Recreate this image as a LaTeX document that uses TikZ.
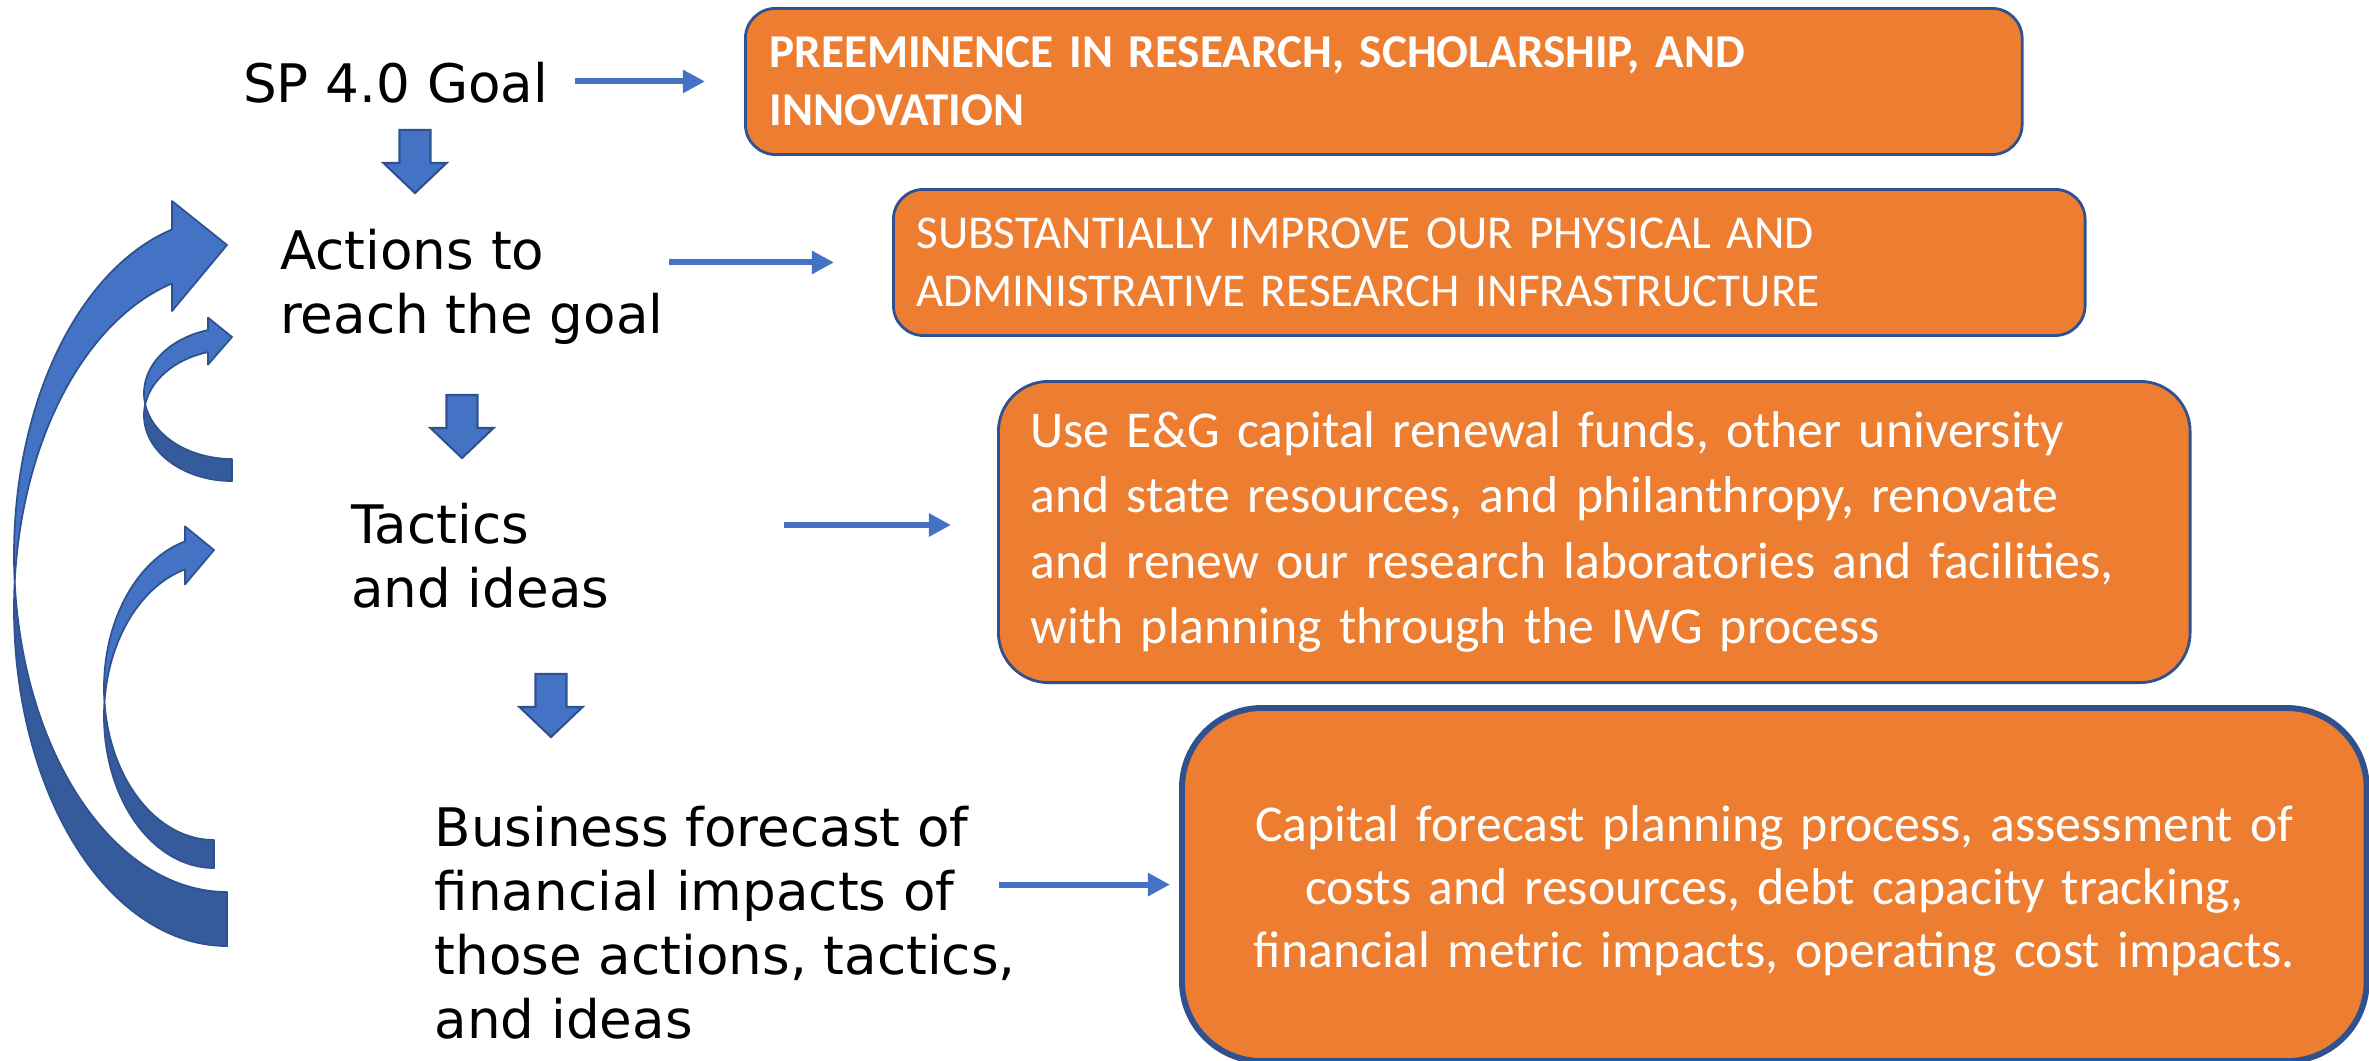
\documentclass[tikz,border=0pt]{standalone}
\usepackage{fontspec}
\setmainfont{DejaVu Sans}
\newfontfamily\cardfont{Carlito}
\usetikzlibrary{arrows.meta}
\definecolor{accblue}{HTML}{4472C4}
\definecolor{accdark}{HTML}{365B9D}
\definecolor{edgeblue}{HTML}{2F528F}
\definecolor{accorange}{HTML}{ED7D31}
\begin{document}
\begin{tikzpicture}[x=0.01cm, y=-0.01cm,
  lbl/.style={inner sep=0pt, anchor=base west, align=left,
    font=\fontsize{15.1}{18.15}\selectfont},
  card/.style={draw=edgeblue, line width=0.8pt, fill=accorange, text=white,
    anchor=north west, inner ysep=0pt, align=left},
  conn/.style={draw=accblue, line width=1.7pt,
    -{Triangle[length=6.3pt,width=6.3pt]}},
  blockarrow/.style={fill=accblue, draw=edgeblue, line width=0.6pt},
  ribbonfront/.style={fill=accblue, draw=edgeblue, line width=0.5pt, line join=round},
  ribbonback/.style={fill=accdark, draw=edgeblue, line width=0.5pt, line join=round},
  samples=60
]
\useasboundingbox (0,0) rectangle (2369,1060);

% ---- feedback ribbons on the left (two congruent ellipses offset by the band width)
% large ribbon: back side, then front side with its head
\filldraw[ribbonback]
  plot[domain=90:184.6] ({227+213*cos(\x)},{609+337*sin(\x)})
  -- plot[domain=175.4:90] ({227+213*cos(\x)},{555+337*sin(\x)}) -- cycle;
\filldraw[ribbonfront]
  plot[domain=175.4:255.04] ({227+213*cos(\x)},{555+337*sin(\x)})
  -- (172,201) -- (227,245) -- (172,311)
  -- plot[domain=255.04:184.6] ({227+213*cos(\x)},{609+337*sin(\x)}) -- cycle;

% small upper ribbon
\filldraw[ribbonback]
  plot[domain=90:189.64] ({232+88*cos(\x)},{415.3+65.7*sin(\x)})
  -- plot[domain=170.36:90] ({232+88*cos(\x)},{393.3+65.7*sin(\x)}) -- cycle;
\filldraw[ribbonfront]
  plot[domain=170.36:254.17] ({232+88*cos(\x)},{393.3+65.7*sin(\x)})
  -- (208,317.6) -- (232,337) -- (208,364.6)
  -- plot[domain=254.17:189.64] ({232+88*cos(\x)},{415.3+65.7*sin(\x)}) -- cycle;

% small lower ribbon
\filldraw[ribbonback]
  plot[domain=90:185.28] ({214+110*cos(\x)},{716+152*sin(\x)})
  -- plot[domain=174.72:90] ({214+110*cos(\x)},{688+152*sin(\x)}) -- cycle;
\filldraw[ribbonfront]
  plot[domain=174.72:254.71] ({214+110*cos(\x)},{688+152*sin(\x)})
  -- (185,526.4) -- (214,550) -- (185,584.4)
  -- plot[domain=254.71:185.28] ({214+110*cos(\x)},{716+152*sin(\x)}) -- cycle;

% ---- step labels (anchored on the baseline of their last line)
\node[lbl] (goal) at (242.5,102) {SP 4.0 Goal};
\node[lbl] (act) at (279.5,333) {Actions to\\reach the goal};
\node[lbl] (tac) at (350.5,607.7) {Tactics\\and ideas};
\node[lbl] (biz) at (434,1038) {Business forecast of\\financial impacts of\\those actions, tactics,\\and ideas};

% ---- downward block arrows between the steps
\foreach \cx/\ty in {415/130, 462/395, 551/674}
  \draw[blockarrow] (\cx-15.5,\ty) -- (\cx+15.5,\ty) -- (\cx+15.5,\ty+33)
    -- (\cx+31.5,\ty+33) -- (\cx,\ty+63) -- (\cx-31.5,\ty+33)
    -- (\cx-15.5,\ty+33) -- cycle;

% ---- content cards
\node[card, rounded corners=0.3cm, minimum width=12.76cm, minimum height=1.46cm,
  inner xsep=0.24cm, text width=12.28cm,
  font=\cardfont\bfseries\fontsize{13.4}{16.5}\selectfont] (g1) at (744,7)
  {PREEMINENCE IN RESEARCH, SCHOLARSHIP, AND\\INNOVATION};
\node[card, rounded corners=0.3cm, minimum width=11.91cm, minimum height=1.46cm,
  inner xsep=0.23cm, text width=11.45cm,
  font=\cardfont\fontsize{13.4}{16.5}\selectfont] (g2) at (892,188)
  {SUBSTANTIALLY IMPROVE OUR PHYSICAL AND\\ADMINISTRATIVE RESEARCH INFRASTRUCTURE};
\node[card, rounded corners=0.5cm, minimum width=11.91cm, minimum height=3.01cm,
  inner xsep=0.32cm, text width=11.27cm,
  font=\cardfont\fontsize{14.7}{18.5}\selectfont] (g3) at (997,380)
  {Use E\&G capital renewal funds, other university\\and state resources, and philanthropy, renovate\\and renew our research laboratories and facilities,\\with planning through the IWG process};
\node[card, rounded corners=0.8cm, line width=1.7pt, minimum width=11.84cm, minimum height=3.53cm,
  inner xsep=0.4cm, text width=11.04cm, align=center,
  font=\cardfont\fontsize{14.7}{17.9}\selectfont] (g4) at (1179,705)
  {\rule{0pt}{13.9pt}Capital forecast planning process, assessment of\\costs and resources, debt capacity tracking,\\financial metric impacts, operating cost impacts.};

% ---- connectors from each step to its card
\draw[conn] ([xshift=0.26cm]goal.east |- g1.west) -- ([xshift=-0.39cm]g1.west);
\draw[conn] ([xshift=0.05cm]act.east |- g2.west) -- ([xshift=-0.58cm]g2.west);
\coordinate (c3end) at ([xshift=-0.46cm, yshift=0.07cm]g3.west);
\draw[conn] ([xshift=1.74cm]tac.east |- c3end) -- (c3end);
\draw[conn] ([xshift=-0.17cm]biz.east |- g4.west) -- ([xshift=-0.09cm]g4.west);
\end{tikzpicture}
\end{document}
